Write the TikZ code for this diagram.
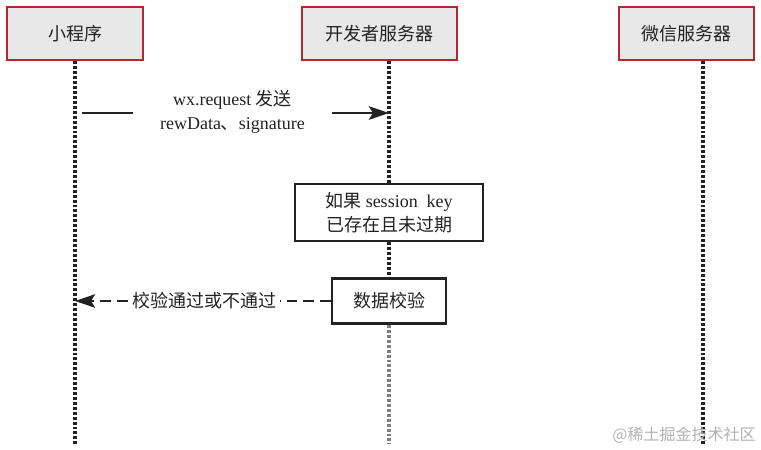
\documentclass[tikz,border=0pt]{standalone}
\usepackage{fontspec}
\setmainfont{Liberation Serif}
\newfontfamily\cjk{Noto Sans CJK SC}
\usetikzlibrary{arrows.meta}

\definecolor{boxred}{HTML}{B3282B}
\definecolor{boxgray}{HTML}{E8E8E8}
\definecolor{ink}{HTML}{222222}

\begin{document}
\begin{tikzpicture}[x=0.75pt,y=-0.75pt,
		txt/.style={text=ink, font=\fontsize{13.5}{18}\selectfont},
		actor/.style={txt, draw=boxred, fill=boxgray, line width=2.2pt, minimum height=39.75pt, inner sep=0pt},
		action/.style={txt, draw=ink, fill=white, line width=2.2pt, inner sep=0pt, align=center},
		msg/.style={txt, align=center, inner sep=3pt},
		lifeline/.style={draw=ink, line width=2.3pt, dash pattern=on 2.2pt off 1.5pt},
		msgline/.style={draw=ink, line width=2.1pt},
		retline/.style={draw=ink, line width=2.1pt, dash pattern=on 8pt off 4.5pt},
		tip/.style={-{Stealth[length=15pt, width=10pt, inset=3pt]}}]
		\useasboundingbox (0,0) rectangle (761,450);

		% Draw the three participants
		\node[actor, minimum width=102pt] (app) at (75,33.5) {\cjk 小程序};
		\node[actor, minimum width=116.25pt] (dev) at (379.5,33.5) {\cjk 开发者服务器};
		\node[actor, minimum width=101.25pt] (wx) at (686.5,33.5) {\cjk 微信服务器};

		% Steps on the developer server
		\node[action, minimum width=141pt, minimum height=42.75pt] (sess) at (389,212.5) {{\cjk 如果} session\ \ key\\{\cjk 已存在且未过期}};
		\node[action, minimum width=85.5pt, minimum height=33.75pt] (chk) at (389,301) {\cjk 数据校验};

		\coordinate (appEnd) at (75,444);
		\coordinate (devEnd) at (389,444);
		\coordinate (wxEnd) at (703,444);

		% Draw lifelines
		\draw[lifeline] (app.south) -- (appEnd);
		\draw[lifeline] (dev.south -| devEnd) -- (sess.north);
		\draw[lifeline] (sess.south) -- (chk.north);
		\draw[lifeline, draw=gray] (chk.south) -- (devEnd);
		\draw[lifeline] (wx.south -| wxEnd) -- (wxEnd);

		% Request from the mini program
		\coordinate (reqStart) at (82,113);
		\node[msg, minimum width=149pt] (req) at (232.5,112) {wx.request {\cjk 发送}\\rewData{\cjk 、}signature};
		\draw[msgline] (reqStart) -- (reqStart -| req.west);
		\draw[msgline, tip] (reqStart -| req.east) -- (reqStart -| devEnd);

		% Result back to the mini program
		\node[msg] (ret) at (204,301) {\cjk 校验通过或不通过};
		\draw[retline] (chk.west) -- (ret.east);
		\draw[retline, tip] (ret.west) -- (chk.west -| appEnd);

		\node[txt, text=gray!60, font=\fontsize{12}{14}\selectfont] (mark) at (684,435) {\cjk @稀土掘金技术社区};
	\end{tikzpicture}
\end{document}
